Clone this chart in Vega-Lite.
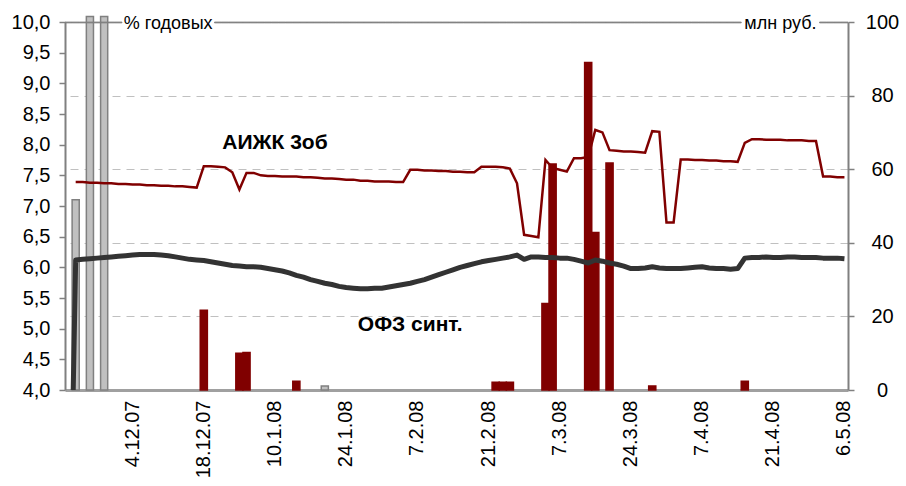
{
  "$schema": "https://vega.github.io/schema/vega-lite/v6.json",
  "width": 783,
  "height": 368,
  "autosize": {"type": "none"},
  "padding": {"left": 65, "top": 22, "right": 58, "bottom": 96},
  "background": "white",
  "config": {
    "view": {"stroke": null},
    "font": "Liberation Sans",
    "axis": {"labelFont": "Liberation Sans", "labelFontSize": 20, "labelColor": "#000000", "domainColor": "#808080", "tickColor": "#808080", "domainWidth": 2, "tickWidth": 1.5}
  },
  "data": {"values": [
    {"date": "21.11.07", "ofz": 0},
    {"date": "22.11.07", "ofz": 6.12, "aijk": 7.39, "volg": 51.7},
    {"date": "23.11.07", "ofz": 6.13, "aijk": 7.39},
    {"date": "26.11.07", "ofz": 6.14, "aijk": 7.38, "volg": 101.5},
    {"date": "27.11.07", "ofz": 6.15, "aijk": 7.38},
    {"date": "28.11.07", "ofz": 6.16, "aijk": 7.37, "volg": 101.5},
    {"date": "29.11.07", "ofz": 6.17, "aijk": 7.37},
    {"date": "30.11.07", "ofz": 6.18, "aijk": 7.36},
    {"date": "3.12.07", "ofz": 6.19, "aijk": 7.36},
    {"date": "4.12.07", "ofz": 6.2, "aijk": 7.35},
    {"date": "5.12.07", "ofz": 6.21, "aijk": 7.35},
    {"date": "6.12.07", "ofz": 6.21, "aijk": 7.34},
    {"date": "7.12.07", "ofz": 6.21, "aijk": 7.34},
    {"date": "10.12.07", "ofz": 6.2, "aijk": 7.33},
    {"date": "11.12.07", "ofz": 6.19, "aijk": 7.33},
    {"date": "12.12.07", "ofz": 6.17, "aijk": 7.32},
    {"date": "13.12.07", "ofz": 6.15, "aijk": 7.32},
    {"date": "14.12.07", "ofz": 6.13, "aijk": 7.31},
    {"date": "17.12.07", "ofz": 6.12, "aijk": 7.3},
    {"date": "18.12.07", "ofz": 6.11, "aijk": 7.65, "vol": 21.7},
    {"date": "19.12.07", "ofz": 6.09, "aijk": 7.65},
    {"date": "20.12.07", "ofz": 6.07, "aijk": 7.64},
    {"date": "21.12.07", "ofz": 6.05, "aijk": 7.63},
    {"date": "24.12.07", "ofz": 6.03, "aijk": 7.55},
    {"date": "25.12.07", "ofz": 6.02, "aijk": 7.27, "vol": 10.0},
    {"date": "26.12.07", "ofz": 6.01, "aijk": 7.54, "vol": 10.2},
    {"date": "27.12.07", "ofz": 6.01, "aijk": 7.54},
    {"date": "28.12.07", "ofz": 6.0, "aijk": 7.5},
    {"date": "9.1.08", "ofz": 5.98, "aijk": 7.49},
    {"date": "10.1.08", "ofz": 5.96, "aijk": 7.49},
    {"date": "11.1.08", "ofz": 5.94, "aijk": 7.48},
    {"date": "14.1.08", "ofz": 5.91, "aijk": 7.48},
    {"date": "15.1.08", "ofz": 5.87, "aijk": 7.48, "vol": 2.4},
    {"date": "16.1.08", "ofz": 5.84, "aijk": 7.47},
    {"date": "17.1.08", "ofz": 5.8, "aijk": 7.47},
    {"date": "18.1.08", "ofz": 5.77, "aijk": 7.46},
    {"date": "21.1.08", "ofz": 5.74, "aijk": 7.45, "volg": 1.1},
    {"date": "22.1.08", "ofz": 5.72, "aijk": 7.45},
    {"date": "23.1.08", "ofz": 5.69, "aijk": 7.44},
    {"date": "24.1.08", "ofz": 5.67, "aijk": 7.43},
    {"date": "25.1.08", "ofz": 5.66, "aijk": 7.43},
    {"date": "28.1.08", "ofz": 5.65, "aijk": 7.41},
    {"date": "29.1.08", "ofz": 5.65, "aijk": 7.41},
    {"date": "30.1.08", "ofz": 5.66, "aijk": 7.4},
    {"date": "31.1.08", "ofz": 5.66, "aijk": 7.4},
    {"date": "1.2.08", "ofz": 5.68, "aijk": 7.4},
    {"date": "4.2.08", "ofz": 5.7, "aijk": 7.39},
    {"date": "5.2.08", "ofz": 5.72, "aijk": 7.39},
    {"date": "6.2.08", "ofz": 5.74, "aijk": 7.59},
    {"date": "7.2.08", "ofz": 5.77, "aijk": 7.59},
    {"date": "8.2.08", "ofz": 5.8, "aijk": 7.58},
    {"date": "11.2.08", "ofz": 5.84, "aijk": 7.58},
    {"date": "12.2.08", "ofz": 5.88, "aijk": 7.57},
    {"date": "13.2.08", "ofz": 5.92, "aijk": 7.57},
    {"date": "14.2.08", "ofz": 5.96, "aijk": 7.56},
    {"date": "15.2.08", "ofz": 6.0, "aijk": 7.56},
    {"date": "18.2.08", "ofz": 6.03, "aijk": 7.55},
    {"date": "19.2.08", "ofz": 6.06, "aijk": 7.55},
    {"date": "20.2.08", "ofz": 6.09, "aijk": 7.64},
    {"date": "21.2.08", "ofz": 6.11, "aijk": 7.64},
    {"date": "22.2.08", "ofz": 6.13, "aijk": 7.64, "vol": 2.1},
    {"date": "26.2.08", "ofz": 6.15, "aijk": 7.63, "vol": 2.1},
    {"date": "27.2.08", "ofz": 6.17, "aijk": 7.61, "vol": 2.1},
    {"date": "28.2.08", "ofz": 6.2, "aijk": 7.37},
    {"date": "29.2.08", "ofz": 6.13, "aijk": 6.53},
    {"date": "3.3.08", "ofz": 6.17, "aijk": 6.51},
    {"date": "4.3.08", "ofz": 6.17, "aijk": 6.49},
    {"date": "5.3.08", "ofz": 6.16, "aijk": 7.75, "vol": 23.5},
    {"date": "6.3.08", "ofz": 6.16, "aijk": 7.62, "vol": 61.4},
    {"date": "7.3.08", "ofz": 6.15, "aijk": 7.59},
    {"date": "11.3.08", "ofz": 6.15, "aijk": 7.56},
    {"date": "12.3.08", "ofz": 6.13, "aijk": 7.78},
    {"date": "13.3.08", "ofz": 6.1, "aijk": 7.78},
    {"date": "14.3.08", "ofz": 6.07, "aijk": 7.8, "vol": 89.0},
    {"date": "17.3.08", "ofz": 6.12, "aijk": 8.24, "vol": 42.8},
    {"date": "18.3.08", "ofz": 6.1, "aijk": 8.2},
    {"date": "19.3.08", "ofz": 6.07, "aijk": 7.91, "vol": 61.7},
    {"date": "20.3.08", "ofz": 6.05, "aijk": 7.9},
    {"date": "21.3.08", "ofz": 6.02, "aijk": 7.89},
    {"date": "24.3.08", "ofz": 5.98, "aijk": 7.89},
    {"date": "25.3.08", "ofz": 5.98, "aijk": 7.88},
    {"date": "26.3.08", "ofz": 5.99, "aijk": 7.87},
    {"date": "27.3.08", "ofz": 6.01, "aijk": 8.22, "vol": 1.1},
    {"date": "28.3.08", "ofz": 5.99, "aijk": 8.21},
    {"date": "31.3.08", "ofz": 5.98, "aijk": 6.73},
    {"date": "1.4.08", "ofz": 5.98, "aijk": 6.73},
    {"date": "2.4.08", "ofz": 5.98, "aijk": 7.76},
    {"date": "3.4.08", "ofz": 5.99, "aijk": 7.76},
    {"date": "4.4.08", "ofz": 6.0, "aijk": 7.75},
    {"date": "7.4.08", "ofz": 6.01, "aijk": 7.75},
    {"date": "8.4.08", "ofz": 5.99, "aijk": 7.74},
    {"date": "9.4.08", "ofz": 5.98, "aijk": 7.74},
    {"date": "10.4.08", "ofz": 5.98, "aijk": 7.73},
    {"date": "11.4.08", "ofz": 5.97, "aijk": 7.73},
    {"date": "14.4.08", "ofz": 5.98, "aijk": 7.72},
    {"date": "15.4.08", "ofz": 6.15, "aijk": 8.03, "vol": 2.4},
    {"date": "16.4.08", "ofz": 6.16, "aijk": 8.09},
    {"date": "17.4.08", "ofz": 6.16, "aijk": 8.09},
    {"date": "18.4.08", "ofz": 6.17, "aijk": 8.08},
    {"date": "21.4.08", "ofz": 6.16, "aijk": 8.08},
    {"date": "22.4.08", "ofz": 6.16, "aijk": 8.08},
    {"date": "23.4.08", "ofz": 6.17, "aijk": 8.07},
    {"date": "24.4.08", "ofz": 6.17, "aijk": 8.07},
    {"date": "25.4.08", "ofz": 6.16, "aijk": 8.07},
    {"date": "28.4.08", "ofz": 6.16, "aijk": 8.06},
    {"date": "29.4.08", "ofz": 6.16, "aijk": 8.06},
    {"date": "30.4.08", "ofz": 6.15, "aijk": 7.48},
    {"date": "4.5.08", "ofz": 6.15, "aijk": 7.48},
    {"date": "5.5.08", "ofz": 6.15, "aijk": 7.47},
    {"date": "6.5.08", "ofz": 6.14, "aijk": 7.47}
  ]},
  "encoding": {
    "x": {
      "field": "date", "type": "ordinal", "sort": null,
      "scale": {"type": "band", "paddingInner": 0, "paddingOuter": 0,
        "domain": ["21.11.07","22.11.07","23.11.07","26.11.07","27.11.07","28.11.07","29.11.07","30.11.07","3.12.07","4.12.07","5.12.07","6.12.07","7.12.07","10.12.07","11.12.07","12.12.07","13.12.07","14.12.07","17.12.07","18.12.07","19.12.07","20.12.07","21.12.07","24.12.07","25.12.07","26.12.07","27.12.07","28.12.07","9.1.08","10.1.08","11.1.08","14.1.08","15.1.08","16.1.08","17.1.08","18.1.08","21.1.08","22.1.08","23.1.08","24.1.08","25.1.08","28.1.08","29.1.08","30.1.08","31.1.08","1.2.08","4.2.08","5.2.08","6.2.08","7.2.08","8.2.08","11.2.08","12.2.08","13.2.08","14.2.08","15.2.08","18.2.08","19.2.08","20.2.08","21.2.08","22.2.08","26.2.08","27.2.08","28.2.08","29.2.08","3.3.08","4.3.08","5.3.08","6.3.08","7.3.08","11.3.08","12.3.08","13.3.08","14.3.08","17.3.08","18.3.08","19.3.08","20.3.08","21.3.08","24.3.08","25.3.08","26.3.08","27.3.08","28.3.08","31.3.08","1.4.08","2.4.08","3.4.08","4.4.08","7.4.08","8.4.08","9.4.08","10.4.08","11.4.08","14.4.08","15.4.08","16.4.08","17.4.08","18.4.08","21.4.08","22.4.08","23.4.08","24.4.08","25.4.08","28.4.08","29.4.08","30.4.08","4.5.08","5.5.08","6.5.08"]},
      "axis": {
        "title": null,
        "values": ["4.12.07", "18.12.07", "10.1.08", "24.1.08", "7.2.08", "21.2.08", "7.3.08", "24.3.08", "7.4.08", "21.4.08", "6.5.08"],
        "labelAngle": -90, "ticks": false, "domainColor": "#a0a0a0", "domainWidth": 3,
        "labelPadding": 10, "labelOverlap": false, "labelFlush": false
      }
    }
  },
  "layer": [
    {
      "layer": [
        {
          "mark": {"type": "bar", "fill": "#c0c0c0", "stroke": "#808080", "strokeWidth": 1.5},
          "encoding": {
            "y": {"field": "volg", "type": "quantitative", "scale": {"domain": [0, 100], "nice": false},
              "axis": {"orient": "right", "title": null, "values": [0, 20, 40, 60, 80, 100], "tickSize": 6, "labelAlign": "center", "labelPadding": 28,
                "grid": true, "gridColor": "#c0c0c0", "gridDash": [8, 6], "gridWidth": 1,
                "gridOpacity": {"condition": {"test": "datum.value == 0 || datum.value == 100", "value": 0}, "value": 1}}}
          }
        },
        {
          "mark": {"type": "bar", "fill": "#800000", "stroke": "#800000", "strokeWidth": 1.5},
          "encoding": {
            "y": {"field": "vol", "type": "quantitative", "scale": {"domain": [0, 100], "nice": false},
              "axis": {"orient": "right", "title": null, "values": [0, 20, 40, 60, 80, 100], "tickSize": 6, "labelAlign": "center", "labelPadding": 28,
                "grid": true, "gridColor": "#c0c0c0", "gridDash": [8, 6], "gridWidth": 1,
                "gridOpacity": {"condition": {"test": "datum.value == 0 || datum.value == 100", "value": 0}, "value": 1}}}
          }
        }
      ]
    },
    {
      "layer": [
        {
          "mark": {"type": "line", "color": "#800000", "strokeWidth": 2.5},
          "encoding": {
            "y": {"field": "aijk", "type": "quantitative", "scale": {"domain": [4, 10], "nice": false, "zero": false},
              "axis": {"orient": "left", "title": null, "values": [4, 4.5, 5, 5.5, 6, 6.5, 7, 7.5, 8, 8.5, 9, 9.5, 10], "tickSize": 6, "labelPadding": 9, "grid": false,
                "labelExpr": "replace(format(datum.value, '.1f'), '.', ',')"}}
          }
        },
        {
          "mark": {"type": "line", "color": "#333333", "strokeWidth": 5, "clip": true, "strokeJoin": "round"},
          "encoding": {
            "y": {"field": "ofz", "type": "quantitative", "scale": {"domain": [4, 10], "nice": false, "zero": false},
              "axis": {"orient": "left", "title": null, "values": [4, 4.5, 5, 5.5, 6, 6.5, 7, 7.5, 8, 8.5, 9, 9.5, 10], "tickSize": 6, "labelPadding": 9, "grid": false,
                "labelExpr": "replace(format(datum.value, '.1f'), '.', ',')"}}
          }
        },
        {
          "transform": [{"filter": "indexof(['3.12.07','4.12.07','5.12.07','6.12.07','7.12.07','10.12.07','11.12.07','12.12.07','13.12.07','14.12.07','17.12.07','18.12.07','19.12.07','15.4.08','16.4.08','17.4.08','18.4.08','21.4.08','22.4.08','23.4.08','24.4.08','25.4.08','28.4.08','29.4.08'], datum.date) < 0"}],
          "mark": {"type": "bar", "fill": "#808080", "stroke": "#808080", "strokeWidth": 0.8},
          "encoding": {
            "y": {"datum": 10, "type": "quantitative", "scale": {"domain": [4, 10], "nice": false, "zero": false},
              "axis": {"orient": "left", "title": null, "values": [4, 4.5, 5, 5.5, 6, 6.5, 7, 7.5, 8, 8.5, 9, 9.5, 10], "tickSize": 6, "labelPadding": 9, "grid": false,
                "labelExpr": "replace(format(datum.value, '.1f'), '.', ',')"}},
            "y2": {"datum": 9.985}
          }
        },
        {
          "transform": [{"filter": "datum.date == '11.12.07'"}],
          "mark": {"type": "text", "font": "Liberation Sans", "fontSize": 18, "color": "#000000", "baseline": "middle", "dy": 2},
          "encoding": {
            "y": {"datum": 10, "type": "quantitative", "scale": {"domain": [4, 10], "nice": false, "zero": false},
              "axis": {"orient": "left", "title": null, "values": [4, 4.5, 5, 5.5, 6, 6.5, 7, 7.5, 8, 8.5, 9, 9.5, 10], "tickSize": 6, "labelPadding": 9, "grid": false,
                "labelExpr": "replace(format(datum.value, '.1f'), '.', ',')"}},
            "text": {"value": "% годовых"}
          }
        },
        {
          "transform": [{"filter": "datum.date == '22.4.08'"}],
          "mark": {"type": "text", "font": "Liberation Sans", "fontSize": 18, "color": "#000000", "baseline": "middle", "dy": 2},
          "encoding": {
            "y": {"datum": 10, "type": "quantitative", "scale": {"domain": [4, 10], "nice": false, "zero": false},
              "axis": {"orient": "left", "title": null, "values": [4, 4.5, 5, 5.5, 6, 6.5, 7, 7.5, 8, 8.5, 9, 9.5, 10], "tickSize": 6, "labelPadding": 9, "grid": false,
                "labelExpr": "replace(format(datum.value, '.1f'), '.', ',')"}},
            "text": {"value": "млн руб."}
          }
        },
        {
          "transform": [{"filter": "datum.date == '10.1.08'"}],
          "mark": {"type": "text", "font": "Liberation Sans", "fontSize": 21, "fontWeight": "bold", "color": "#000000", "baseline": "middle"},
          "encoding": {
            "y": {"datum": 8.03, "type": "quantitative", "scale": {"domain": [4, 10], "nice": false, "zero": false},
              "axis": {"orient": "left", "title": null, "values": [4, 4.5, 5, 5.5, 6, 6.5, 7, 7.5, 8, 8.5, 9, 9.5, 10], "tickSize": 6, "labelPadding": 9, "grid": false,
                "labelExpr": "replace(format(datum.value, '.1f'), '.', ',')"}},
            "text": {"value": "АИЖК 3об"}
          }
        },
        {
          "transform": [{"filter": "datum.date == '6.2.08'"}],
          "mark": {"type": "text", "font": "Liberation Sans", "fontSize": 21, "fontWeight": "bold", "color": "#000000", "baseline": "middle"},
          "encoding": {
            "y": {"datum": 5.06, "type": "quantitative", "scale": {"domain": [4, 10], "nice": false, "zero": false},
              "axis": {"orient": "left", "title": null, "values": [4, 4.5, 5, 5.5, 6, 6.5, 7, 7.5, 8, 8.5, 9, 9.5, 10], "tickSize": 6, "labelPadding": 9, "grid": false,
                "labelExpr": "replace(format(datum.value, '.1f'), '.', ',')"}},
            "text": {"value": "ОФЗ синт."}
          }
        }
      ]
    }
  ],
  "resolve": {"scale": {"y": "independent"}}
}
